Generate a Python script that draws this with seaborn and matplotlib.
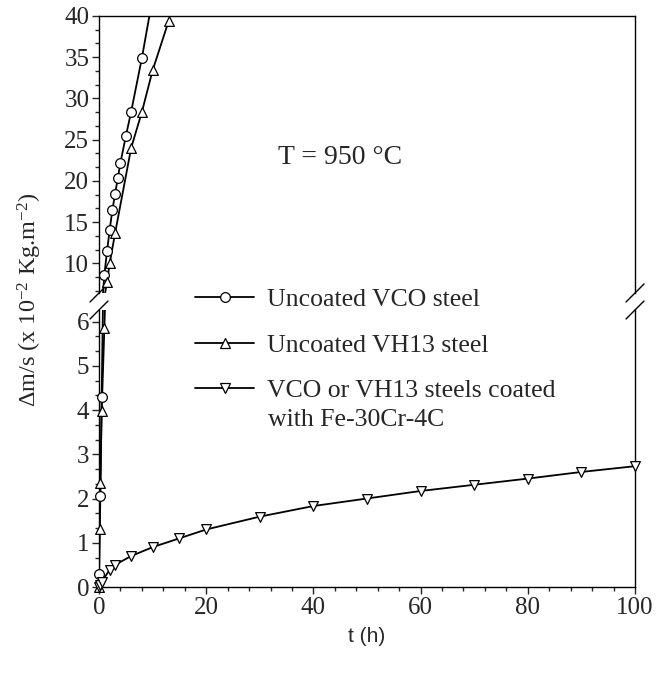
import numpy as np
import pandas as pd
import matplotlib
matplotlib.use("Agg")
import matplotlib.pyplot as plt
import seaborn as sns
from matplotlib.lines import Line2D

# ---- data ----
vco_t = [0, 0.25, 0.5, 1, 1.5, 2, 2.5, 3, 3.5, 4, 5, 6, 8, 10]
vco_y = [0.3, 2.05, 4.3, 8.6, 11.5, 14.1, 16.5, 18.4, 20.3, 22.2, 25.4, 28.4, 34.9, 42.2]

vh13_t = [0, 0.1, 0.25, 0.5, 1, 1.5, 2, 3, 6, 8, 10, 13]
vh13_y = [0, 1.32, 2.34, 3.97, 5.85, 7.77, 10.0, 13.65, 24.0, 28.35, 33.4, 39.4]

coat_t = [0, 0.25, 0.5, 2, 3, 6, 10, 15, 20, 30, 40, 50, 60, 70, 80, 90, 100]
coat_y = [0, 0.05, 0.12, 0.39, 0.5, 0.7, 0.9, 1.1, 1.3, 1.59, 1.83, 2.0, 2.17, 2.31, 2.45, 2.6, 2.73]

labels = ["Uncoated VCO steel", "Uncoated VH13 steel", "VCO or VH13 steels coated"]
label_extra = "with Fe-30Cr-4C"
annot = "T = 950 °C"
x_ticks = [0, 20, 40, 60, 80, 100]
upper_ticks = [10, 15, 20, 25, 30, 35, 40]
lower_ticks = [0, 1, 2, 3, 4, 5, 6]

series = [(vco_t, vco_y, "o"), (vh13_t, vh13_y, "^"), (coat_t, coat_y, "v")]

sns.set_style("ticks")
plt.rcParams["font.family"] = ["Liberation Serif", "DejaVu Serif"]
plt.rcParams["mathtext.fontset"] = "custom"
plt.rcParams["mathtext.rm"] = "Liberation Serif"
plt.rcParams["mathtext.it"] = "Liberation Serif:italic"

FS_TICK = 18
FS_LEG = 18.5
fig = plt.figure(figsize=(6.56, 6.73), dpi=100)
W, H = 656, 673
left, right = 99 / W, 635 / W
ax_up = fig.add_axes([left, 1 - 293 / H, right - left, (293 - 16) / H])
ax_lo = fig.add_axes([left, 1 - 587 / H, right - left, (587 - 310) / H])

ms = 7
for ax, (ylo, yhi) in ((ax_up, (6.4, 40)), (ax_lo, (0, 6.26))):
    for t, y, m in series:
        df = pd.DataFrame({"t": t, "y": y})
        sns.lineplot(data=df, x="t", y="y", ax=ax, color="black", lw=1.3,
                     sort=False, estimator=None, legend=False)
        inside = df[(df.y >= ylo) & (df.y <= yhi)]
        sns.scatterplot(data=inside, x="t", y="y", ax=ax, marker=m, s=ms ** 2,
                        facecolor="white", edgecolor="black", linewidth=0.9,
                        legend=False, clip_on=False, zorder=3)
    ax.set_xlim(0, 100)
    ax.set_ylim(ylo, yhi)
    ax.set_xlabel("")
    ax.set_ylabel("")
    for s in ax.spines.values():
        s.set_color("black")
        s.set_linewidth(1.0)
    ax.tick_params(axis="y", which="major", direction="out", length=5, width=1,
                   labelsize=FS_TICK, pad=2, right=False)
    ax.tick_params(axis="y", which="minor", direction="out", length=3, width=1,
                   right=False)

ax_up.set_yticks(upper_ticks)
ax_up.yaxis.set_minor_locator(matplotlib.ticker.MultipleLocator(5 / 3))
ax_up.set_xticks([])
ax_up.spines["bottom"].set_visible(False)
ax_up.tick_params(axis="x", which="both", bottom=False, labelbottom=False)

ax_lo.set_yticks(lower_ticks)
ax_lo.yaxis.set_minor_locator(matplotlib.ticker.MultipleLocator(1 / 3))
ax_lo.set_xticks(x_ticks)
ax_lo.xaxis.set_minor_locator(matplotlib.ticker.MultipleLocator(4))
ax_lo.spines["top"].set_visible(False)
ax_lo.tick_params(axis="x", which="major", direction="out", length=5, width=1,
                  labelsize=FS_TICK, pad=2, top=False)
ax_lo.tick_params(axis="x", which="minor", direction="out", length=3, width=1,
                  top=False)

# break marks
dxp, dyp = 9, 9
for ax, yb in ((ax_up, 0), (ax_lo, 1)):
    bw = ax.get_position().width * W
    bh = ax.get_position().height * H
    dx, dy = dxp / bw, dyp / bh
    for xb in (0, 1):
        ax.plot([xb - dx, xb + dx], [yb - dy, yb + dy], transform=ax.transAxes,
                color="black", lw=1.0, clip_on=False)

# labels
fig.text(30 / W, 1 - 300 / H, "Δm/s (x 10$^{-2}$ Kg.m$^{-2}$)", rotation=90,
         ha="center", va="center", fontsize=17.5)
fig.text((99 + 635) / 2 / W, 1 - 637 / H, "t (h)", ha="center", va="center",
         fontsize=15, family=["Liberation Sans", "DejaVu Sans"])
fig.text(278 / W, 1 - 157 / H, annot, ha="left", va="center", fontsize=20)

handles = [Line2D([], [], color="black", lw=1.3, marker=m, markersize=ms,
                  markerfacecolor="white", markeredgecolor="black",
                  markeredgewidth=0.9) for _, _, m in series]
fig.legend(handles, labels, loc="upper left", bbox_to_anchor=(195 / W, 1 - 288 / H),
           frameon=False, fontsize=FS_LEG, handlelength=2.3, handletextpad=0.52,
           labelspacing=0.88, borderaxespad=0, borderpad=0)
fig.text(268 / W, 1 - 420 / H, label_extra, ha="left", va="center", fontsize=FS_LEG)

fig.savefig("out.png", dpi=100)
